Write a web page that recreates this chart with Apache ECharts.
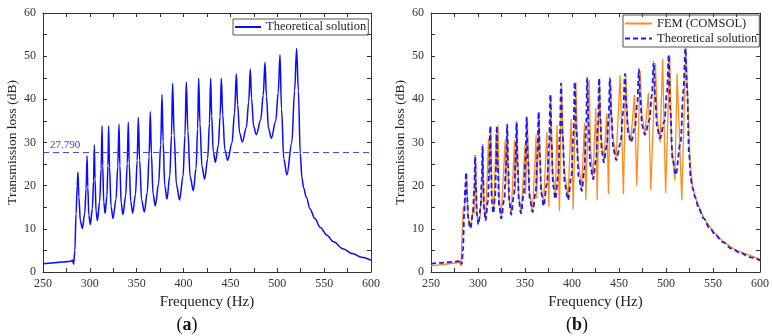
<!DOCTYPE html>
<html><head><meta charset="utf-8">
<script src="https://cdn.jsdelivr.net/npm/echarts/dist/echarts.min.js"></script>
<style>html,body{margin:0;padding:0;background:#fff}#c{width:772px;height:336px}</style>
</head><body><div id="c"></div>
<script>
// ---- data ----
const xTicks = [250, 300, 350, 400, 450, 500, 550, 600];
const yTicks = [0, 10, 20, 30, 40, 50, 60];
const refLevel = 27.790;

const theoryFreq = [250,260,270,280,281.5,282.7,284.0,285.3,286.5,287.3,288.3,289.9,292.0,294.5,296.0,297.0,297.8,298.9,300.5,302.7,303.9,304.8,305.5,306.6,308.0,310.5,312.0,313.0,313.7,314.8,316.3,318.2,319.3,320.0,321.0,322.6,324.7,327.9,329.8,331.1,332.0,333.4,335.3,338.2,339.9,341.0,342.0,343.6,345.7,348.7,350.5,351.7,353.1,355.2,358.1,361.3,363.2,364.5,365.7,367.4,369.8,373.4,375.6,377.0,378.2,379.9,382.3,385.3,387.1,388.3,390.0,392.4,395.8,399.4,401.5,402.9,404.6,407.0,410.4,413.3,415.0,416.1,417.5,419.6,422.5,425.7,427.6,428.9,430.0,431.7,433.9,437.1,439.0,440.3,441.8,444.0,447.0,451.7,454.4,456.3,457.7,459.8,462.7,467.0,469.5,471.2,472.6,474.7,477.6,482.3,485.0,486.9,488.4,490.6,493.6,498.3,501.0,502.9,504.5,507.0,510.3,515.5,518.5,520.6,522.5,524.5,526.3,528.0,531.0,535.0,540.0,546.0,553.0,560.0,570.0,580.0,590.0,600.0];
const theoryTL = [1.9,2.1,2.3,2.5,2.8,1.8,5.0,13.5,20.0,23.1,17.3,11.8,10.1,13.5,19.3,26.9,19.7,13.1,11.0,14.7,21.1,29.4,21.5,14.2,11.9,16.3,23.9,33.8,24.7,16.2,13.6,17.6,24.7,33.8,24.2,15.2,12.4,16.8,24.4,34.2,24.8,16.0,13.3,17.6,25.1,34.7,25.2,16.3,13.6,18.0,25.8,35.8,25.9,16.7,13.9,18.5,26.7,37.1,27.3,18.1,15.3,20.5,29.5,41.1,30.2,20.0,16.9,22.3,31.6,43.7,31.6,20.2,16.7,22.2,31.7,44.0,32.7,22.1,18.8,24.0,33.2,44.9,34.4,24.5,21.5,26.2,34.4,44.9,36.1,27.9,25.4,29.3,36.1,44.9,36.4,28.4,25.9,29.9,36.9,45.9,38.8,32.2,30.1,33.5,39.4,47.0,40.2,33.8,31.8,35.2,41.0,48.6,40.7,33.3,31.0,34.9,41.6,50.3,37.8,26.1,22.5,30.0,42.0,51.8,42.0,27.5,21.8,19.6,17.3,14.6,12.4,10.3,8.5,7.0,5.4,4.3,3.4,2.7];

const femFreq = [250,265,280,281.8,284.3,286.0,288.0,289.0,290.8,293.3,295.3,296.0,297.6,298.4,299.8,302.3,303.3,304.0,305.2,306.2,308.2,311.2,312.0,313.7,314.8,316.9,319.3,320.0,321.3,322.5,324.7,328.9,329.6,331.2,332.6,335.3,338.9,339.6,341.7,343.1,346.0,350.0,350.8,352.5,354.5,358.1,361.8,362.5,365.0,366.6,369.8,373.3,375.4,377.5,379.1,382.3,384.1,386.7,388.8,391.2,395.8,399.1,401.3,404.1,406.1,410.2,413.3,414.7,418.3,419.6,422.3,425.3,426.8,429.2,430.8,434.0,437.0,438.8,440.9,442.9,447.0,451.2,454.7,457.2,459.0,462.5,466.4,468.9,472.5,474.2,477.6,481.3,483.8,488.8,490.5,493.8,496.4,499.6,504.0,505.8,509.5,511.8,516.8,521.2,523.5,525.5,528.0,532.0,540.0,550.0,560.0,575.0,590.0,600.0];
const femTL = [1.4,1.8,2.2,1.4,14.8,15.5,22.6,14.5,10.4,12.0,15.0,13.5,26.3,15.5,11.2,13.0,17.5,16.0,29.0,16.0,12.0,31.0,22.0,33.8,18.0,14.5,32.0,24.0,34.0,17.0,12.8,30.6,20.0,33.8,18.0,13.4,30.6,19.0,34.6,18.0,13.7,29.5,18.0,35.8,19.0,14.0,31.8,17.0,36.9,21.0,15.8,32.5,15.1,41.0,24.0,17.8,34.0,14.1,43.6,25.0,17.0,35.5,14.5,44.0,27.0,19.3,34.5,16.6,44.6,29.0,21.8,38.0,16.6,44.6,32.0,25.8,36.8,18.0,44.6,32.0,26.5,45.5,18.0,46.0,35.0,30.2,41.0,20.0,46.6,37.0,32.0,41.5,19.0,48.4,36.0,30.0,49.4,18.3,50.2,30.0,21.2,46.0,16.6,52.0,38.0,26.0,20.2,16.8,12.6,9.5,7.2,5.0,3.8,3.0];

// ---- build chart ----
const FONT = '"Liberation Serif", "Times New Roman", serif';
const theory = theoryFreq.map((f, i) => [f, theoryTL[i]]);
const fem = femFreq.map((f, i) => [f, femTL[i]]);
const AX = '#333';

function xAx(grid, pos, show) {
  return {
    type: 'value', gridIndex: grid, position: pos,
    min: xTicks[0], max: xTicks[xTicks.length - 1], interval: xTicks[1] - xTicks[0],
    name: show ? 'Frequency (Hz)' : '', nameLocation: 'middle', nameGap: 22,
    nameTextStyle: { fontFamily: FONT, fontSize: 15, color: '#222' },
    axisLine: { show: true, onZero: false, lineStyle: { color: AX, width: 1 } },
    axisTick: { show: true, inside: true, length: 4, lineStyle: { color: AX } },
    minorTick: { show: true, splitNumber: 2, length: 4, lineStyle: { color: AX } },
    axisLabel: { show: show, margin: 6, fontFamily: FONT, fontSize: 12, color: '#333' },
    splitLine: { show: false }, minorSplitLine: { show: false }
  };
}
function yAx(grid, pos, show) {
  return {
    type: 'value', gridIndex: grid, position: pos,
    min: yTicks[0], max: yTicks[yTicks.length - 1], interval: yTicks[1] - yTicks[0],
    name: show ? 'Transmission loss (dB)' : '', nameLocation: 'middle', nameGap: 24,
    nameTextStyle: { fontFamily: FONT, fontSize: 13.5, color: '#222' },
    axisLine: { show: true, onZero: false, lineStyle: { color: AX, width: 1 } },
    axisTick: { show: true, inside: true, length: 4, lineStyle: { color: AX } },
    minorTick: { show: true, splitNumber: 2, length: 4, lineStyle: { color: AX } },
    axisLabel: { show: show, margin: 7, fontFamily: FONT, fontSize: 12, color: '#333' },
    splitLine: { show: false }, minorSplitLine: { show: false }
  };
}

const chart = echarts.init(document.getElementById('c'), null, { renderer: 'canvas' });
chart.setOption({
  animation: false,
  backgroundColor: '#fff',
  grid: [
    { left: 43, top: 13, width: 328, height: 259 },
    { left: 431, top: 13, width: 329, height: 259 }
  ],
  xAxis: [xAx(0, 'bottom', true), xAx(0, 'top', false), xAx(1, 'bottom', true), xAx(1, 'top', false)],
  yAxis: [yAx(0, 'left', true), yAx(0, 'right', false), yAx(1, 'left', true), yAx(1, 'right', false)],
  legend: [
    {
      left: 233, top: 19, orient: 'horizontal', data: ['Theoretical solution'],
      itemWidth: 26, itemHeight: 8, itemGap: 0, padding: [0.5, 2, 0.5, 1],
      itemStyle: { opacity: 0 },
      borderColor: '#555', borderWidth: 1, borderRadius: 0,
      textStyle: { fontFamily: FONT, fontSize: 12.5, color: '#222', lineHeight: 15 }
    },
    {
      left: 623, top: 15, orient: 'vertical', data: ['FEM (COMSOL)', 'Theoretical solution (b)'],
      formatter: n => n.replace(' (b)', ''),
      itemWidth: 27, itemHeight: 8, itemGap: 0, padding: [1, 2, 1, 1],
      itemStyle: { opacity: 0 },
      borderColor: '#555', borderWidth: 1, borderRadius: 0,
      textStyle: { fontFamily: FONT, fontSize: 12.5, color: '#222', lineHeight: 15 }
    }
  ],
  graphic: [
    { type: 'text', x: 187, y: 325, style: { text: '{p|(}{b|a}{p|)}', textAlign: 'center', textVerticalAlign: 'middle',
      rich: { p: { fontFamily: FONT, fontSize: 18, fill: '#111' }, b: { fontFamily: FONT, fontSize: 18, fontWeight: 'bold', fill: '#111' } } } },
    { type: 'text', x: 577, y: 325, style: { text: '{p|(}{b|b}{p|)}', textAlign: 'center', textVerticalAlign: 'middle',
      rich: { p: { fontFamily: FONT, fontSize: 18, fill: '#111' }, b: { fontFamily: FONT, fontSize: 18, fontWeight: 'bold', fill: '#111' } } } }
  ],
  series: [
    {
      type: 'line', name: 'Theoretical solution', xAxisIndex: 0, yAxisIndex: 0, data: theory,
      symbol: 'none', smooth: 0.35, smoothMonotone: 'x',
      lineStyle: { color: '#0a0aff', width: 1.5 }, itemStyle: { color: '#0a0aff' },
      markLine: {
        silent: true, symbol: 'none', animation: false,
        data: [{ yAxis: refLevel }],
        lineStyle: { type: [6, 4], color: '#4545ff', width: 1.2 },
        label: { position: 'insideStartTop', formatter: refLevel.toFixed(3), color: '#3a3aff',
          fontFamily: FONT, fontSize: 11, distance: [7, 1] }
      }
    },
    {
      type: 'line', name: 'FEM (COMSOL)', xAxisIndex: 2, yAxisIndex: 2, data: fem,
      symbol: 'none', lineStyle: { color: '#ff8c1a', width: 1.3 }, itemStyle: { color: '#ff8c1a' }
    },
    {
      type: 'line', name: 'Theoretical solution (b)', xAxisIndex: 2, yAxisIndex: 2, data: theory,
      symbol: 'none', smooth: 0.35, smoothMonotone: 'x',
      lineStyle: { color: '#1a1aff', width: 1.8, type: [5, 3] }, itemStyle: { color: '#1a1aff' }
    }
  ]
});
</script>
</body></html>
